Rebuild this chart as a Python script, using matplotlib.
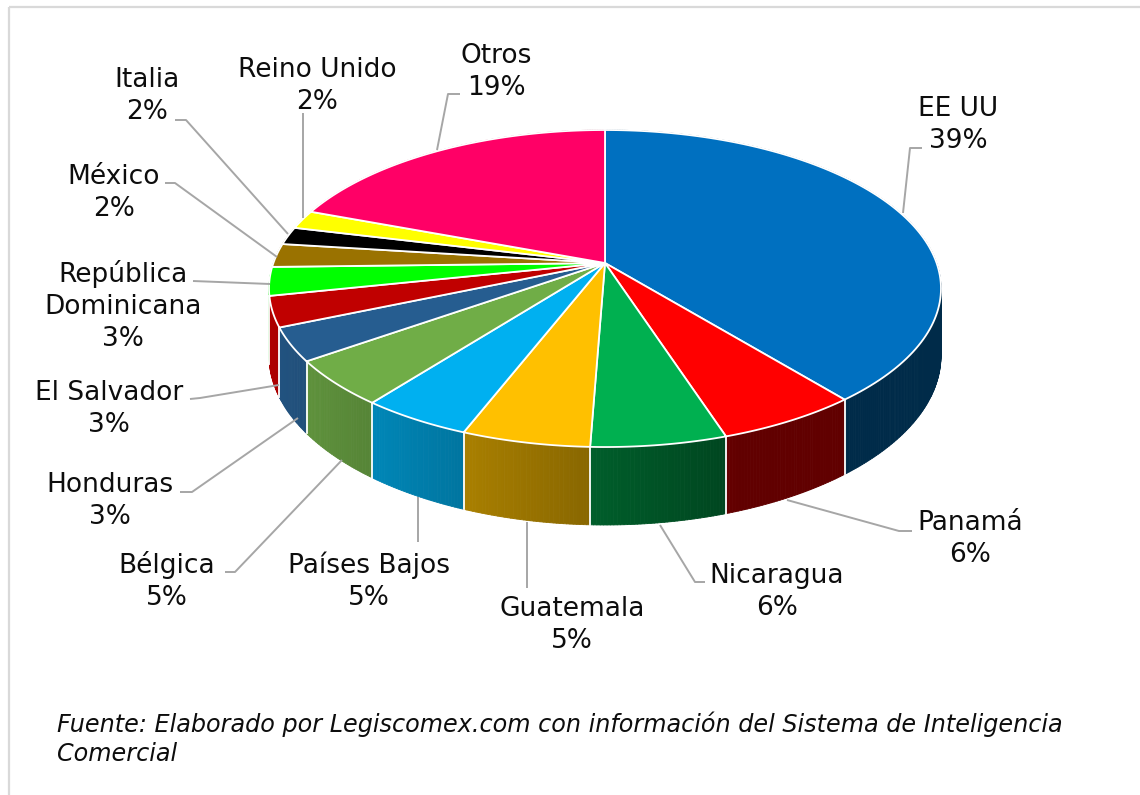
import numpy as np
import matplotlib
matplotlib.use("Agg")
import matplotlib.pyplot as plt
from matplotlib.collections import PolyCollection
from matplotlib.patches import Rectangle, Polygon
from matplotlib.colors import to_rgb

# ---------------- data ----------------
categories = ["EE UU", "Panamá", "Nicaragua", "Guatemala", "Países Bajos", "Bélgica",
              "Honduras", "El Salvador", "República\nDominicana", "México", "Italia",
              "Reino Unido", "Otros"]
values = [39.1, 5.9, 5.6, 5.3, 4.6, 4.7, 3.4, 3.1, 2.9, 2.4, 1.8, 1.9, 19.3]
pct_labels = ["39%", "6%", "6%", "5%", "5%", "5%", "3%", "3%", "3%", "2%", "2%", "2%", "19%"]
colors = ["#0070C0", "#FF0000", "#00B050", "#FFC000", "#00B0F0", "#70AD47", "#265D90",
          "#C00000", "#00FF00", "#9A7200", "#000000", "#FFFF00", "#FF0066"]
source = ("Fuente: Elaborado por Legiscomex.com con información del Sistema de Inteligencia",
          "Comercial")

# ---------------- layout ----------------
W, H = 1140, 795
CX, CY = 605, 263          # apex of the pie on screen
A, B, K = 331.6, 154.4, 0.161   # perspective ellipse
T = 65.4                   # thickness

# label text positions (x centre, first-line baseline) and leader polylines
label_pos = [(958, 116), (970, 530), (777, 583), (572, 616), (369, 573), (167, 573),
             (110, 492), (109, 400), (123, 282), (114, 184), (147, 87), (317, 77), (496, 63)]
line_step = 32
leaders = [
    [(922, 148), (910, 148), (903, 213)],
    [(912, 531), (899, 531), (787, 500)],
    [(705, 582), (695, 582), (660, 525)],
    [(527, 588), (527, 522)],
    [(418, 542), (418, 497)],
    [(225, 572), (235, 572), (342, 460)],
    [(180, 492), (192, 492), (298, 418)],
    [(190, 399), (200, 398), (279, 385)],
    [(193, 281), (270, 284)],
    [(165, 183), (175, 183), (277, 257)],
    [(175, 120), (186, 120), (288, 234)],
    [(303, 113), (303, 218)],
    [(460, 94), (448, 94), (437, 150)],
]


def proj(theta_deg, drop=0.0):
    t = np.radians(theta_deg)
    u, v = np.sin(t), np.cos(t)
    d = 1 + K * v
    return CX + A * u / d, CY - B * v / d + drop * T / d


def shade(col, u):
    f = np.clip(0.52 - 0.4 * u, 0.38, 0.9)
    r, g, b = to_rgb(col)
    return (r * f, g * f, b * f)


fig = plt.figure(figsize=(W / 100, H / 100), dpi=100)
ax = fig.add_axes([0, 0, 1, 1])
ax.set_xlim(0, W)
ax.set_ylim(H, 0)
ax.axis("off")

# outer frame
ax.add_patch(Rectangle((9, 7), 1300, 1000, fill=False, ec="#D9D9D9", lw=1.6, zorder=0))

vals = np.array(values, dtype=float)
bounds = np.concatenate([[0], np.cumsum(vals)]) / vals.sum() * 360.0

# ---------------- side walls (painter's order) ----------------
quads, qcols, depth = [], [], []
step = 0.5
for i, col in enumerate(colors):
    a0, a1 = bounds[i], bounds[i + 1]
    n = max(2, int(np.ceil((a1 - a0) / step)))
    ts = np.linspace(a0, a1, n + 1)
    for j in range(n):
        t0, t1 = ts[j], ts[j + 1]
        p0 = proj(t0); p1 = proj(t1)
        q1 = proj(t1, 1); q0 = proj(t0, 1)
        quads.append([p0, p1, q1, q0])
        tm = np.radians((t0 + t1) / 2)
        qcols.append(shade(col, np.sin(tm)))
        depth.append(np.cos(tm))
order = np.argsort(depth)[::-1]
pc = PolyCollection([quads[o] for o in order], facecolors=[qcols[o] for o in order],
                    edgecolors=[qcols[o] for o in order], linewidths=0.6, zorder=2)
ax.add_collection(pc)

# white separators on visible side walls
for b in bounds[:-1]:
    if np.cos(np.radians(b)) < -K:
        x0, y0 = proj(b)
        x1, y1 = proj(b, 1)
        ax.plot([x0, x1], [y0, y1], color="white", lw=1.3, zorder=3)

# ---------------- top faces ----------------
for i, col in enumerate(colors):
    ts = np.linspace(bounds[i], bounds[i + 1], 120)
    pts = [(CX, CY)] + [proj(t) for t in ts]
    ax.add_patch(Polygon(pts, closed=True, fc=col, ec="white", lw=1.3, zorder=4,
                         joinstyle="round"))

# ---------------- leaders & labels ----------------
for i, pts in enumerate(leaders):
    xs, ys = zip(*pts)
    ax.plot(xs, ys, color="#A6A6A6", lw=1.4, zorder=5, solid_capstyle="butt")

for i, (name, pct) in enumerate(zip(categories, pct_labels)):
    lines = name.split("\n") + [pct]
    x, y = label_pos[i]
    for j, ln in enumerate(lines):
        ax.text(x, y + j * line_step, ln, ha="center", va="baseline",
                fontsize=19, family="DejaVu Sans", color="#0D0D0D", zorder=6)

ax.text(57, 732, source[0], ha="left", va="baseline", fontsize=17.2, style="italic",
        family="DejaVu Sans", color="#0D0D0D")
ax.text(57, 761, source[1], ha="left", va="baseline", fontsize=17.2, style="italic",
        family="DejaVu Sans", color="#0D0D0D")

fig.savefig("out.png", dpi=100, facecolor="white")
